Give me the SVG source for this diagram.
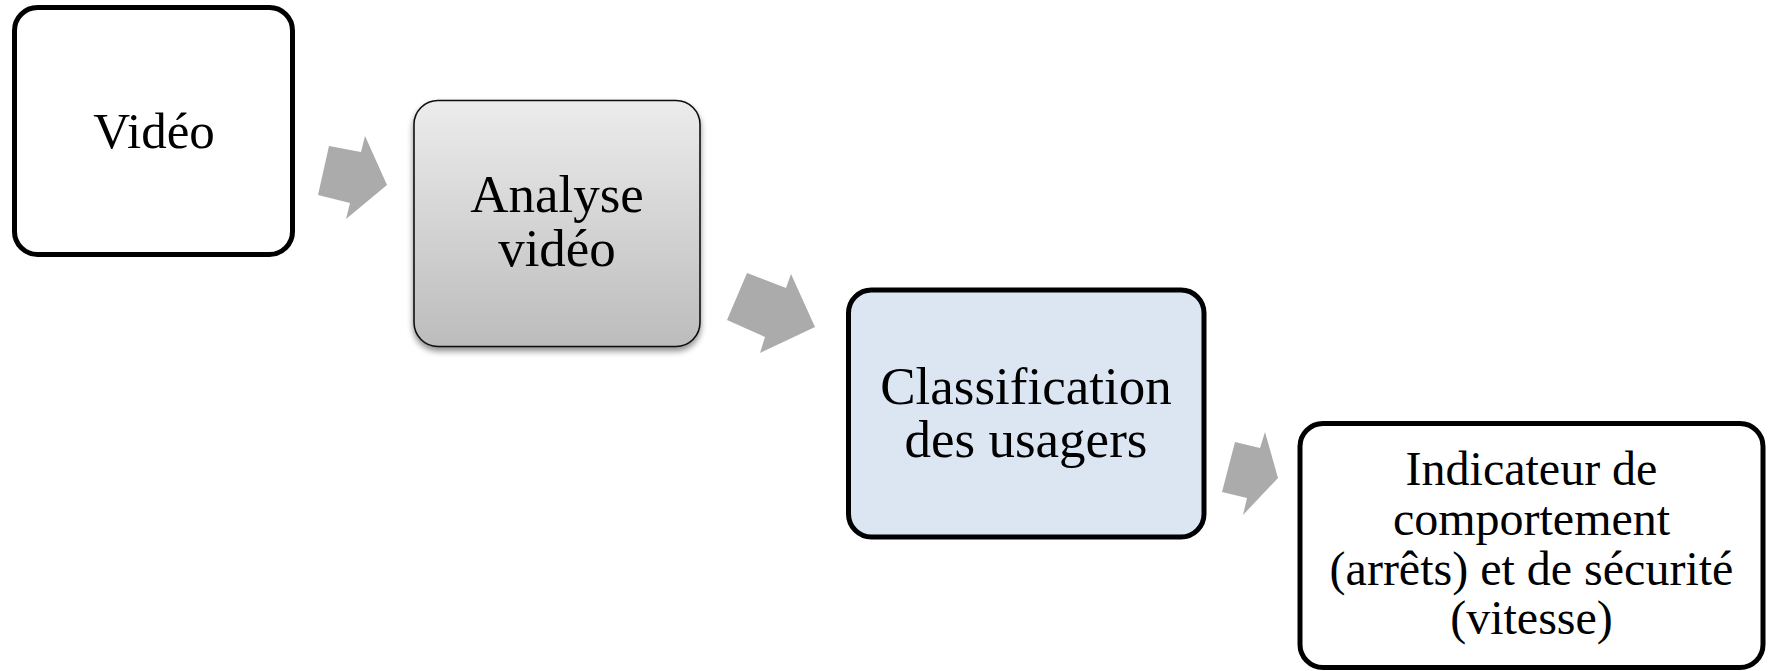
<svg xmlns="http://www.w3.org/2000/svg" width="1768" height="671" viewBox="0 0 1768 671">
  <style>
    .lbl { font-family: "Liberation Serif", "Times New Roman", serif; fill: #000; text-anchor: middle; }
    .thick { stroke: #000; stroke-width: 5; }
    .arrow { fill: #ababab; stroke: none; }
  </style>
  <defs>
    <linearGradient id="grayGrad" x1="0" y1="0" x2="0" y2="1">
      <stop offset="0" stop-color="#ececec"/>
      <stop offset="1" stop-color="#bcbcbc"/>
    </linearGradient>
    <filter id="shadow" x="-10%" y="-10%" width="120%" height="125%">
      <feGaussianBlur in="SourceAlpha" stdDeviation="3"/>
      <feOffset dx="0" dy="4" result="b"/>
      <feComponentTransfer><feFuncA type="linear" slope="0.45"/></feComponentTransfer>
      <feMerge><feMergeNode/><feMergeNode in="SourceGraphic"/></feMerge>
    </filter>
  </defs>
  <rect width="1768" height="671" fill="#ffffff"/>

  <g id="connectors">
    <polygon class="arrow" points="318,195 329,146 361,152 365,136 387,185 346,219 350,203"/>
    <polygon class="arrow" points="727,320 747,273 786,288 791,274 815,327 760,353 765,337"/>
    <polygon class="arrow" points="1222,492 1235,442 1260,448 1265,432 1278,478 1243,515 1247,498"/>
  </g>

  <g id="node-video">
    <rect class="thick" x="14.5" y="7.5" width="278" height="247" rx="23" fill="#ffffff"/>
    <text class="lbl" x="154" y="148" font-size="51">Vidéo</text>
  </g>

  <g id="node-analyse">
    <rect x="414" y="100.5" width="286" height="246" rx="24" fill="url(#grayGrad)" stroke="#111" stroke-width="1.6" filter="url(#shadow)"/>
    <text class="lbl" x="557" y="212" font-size="53">Analyse</text>
    <text class="lbl" x="557" y="266" font-size="53">vidéo</text>
  </g>

  <g id="node-classification">
    <rect class="thick" x="848.5" y="290" width="355.5" height="247" rx="23" fill="#dce6f2"/>
    <text class="lbl" x="1026" y="404" font-size="53">Classification</text>
    <text class="lbl" x="1026" y="457" font-size="53">des usagers</text>
  </g>

  <g id="node-indicateur">
    <rect class="thick" x="1300" y="423.5" width="463" height="244" rx="23" fill="#ffffff"/>
    <text class="lbl" x="1531.5" y="485" font-size="48">Indicateur de</text>
    <text class="lbl" x="1531.5" y="535" font-size="48">comportement</text>
    <text class="lbl" x="1531.5" y="585" font-size="48">(arrêts) et de sécurité</text>
    <text class="lbl" x="1531.5" y="634" font-size="48">(vitesse)</text>
  </g>
</svg>
